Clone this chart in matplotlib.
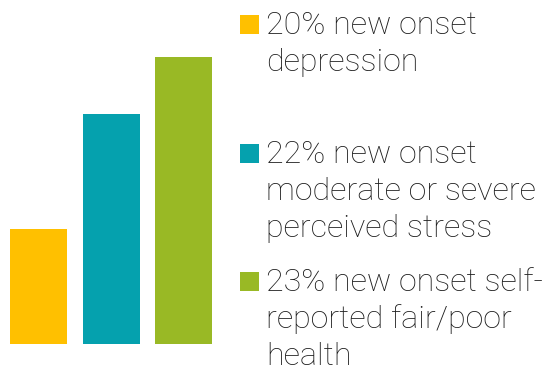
import matplotlib
matplotlib.use('Agg')
import matplotlib.pyplot as plt
from matplotlib.patches import Rectangle

# --- Data ---
categories = ['depression', 'perceived stress', 'fair/poor health']
values = [20, 22, 23]
colors = ['#FFC000', '#05A1AE', '#99B925']
labels = [
    ['20% new onset', 'depression'],
    ['22% new onset', 'moderate or severe', 'perceived stress'],
    ['23% new onset self-', 'reported fair/poor', 'health'],
]
y_floor = 18  # chart axis does not start at zero

W, H = 545, 371
fig = plt.figure(figsize=(W / 100, H / 100), dpi=100)

# --- Bars ---
px_per_unit_x = 72.5
px_per_unit_y = 57.5
ax = fig.add_axes([0, 27 / H, 230 / W, 344 / H])
x = list(range(len(values)))
ax.bar(x, values, width=57 / px_per_unit_x, color=colors)
ax.set_xlim(-38.5 / px_per_unit_x, (230 - 38.5) / px_per_unit_x)
ax.set_ylim(y_floor, y_floor + 344 / px_per_unit_y)
ax.axis('off')

# --- Legend-style labels ---
first_baselines = [34, 163, 291]
line_gap = 37
for lines, col, base in zip(labels, colors, first_baselines):
    fig.add_artist(Rectangle((240 / W, (H - base) / H), 19 / W, 19 / H,
                             transform=fig.transFigure, color=col, lw=0))
    for i, line in enumerate(lines):
        fig.text(266 / W, (H - base - i * line_gap) / H, line,
                 fontsize=23.2, family='Roboto', weight='light',
                 color='#1c1c1c', va='baseline', ha='left')

fig.savefig('out.png', dpi=100, facecolor='white')
